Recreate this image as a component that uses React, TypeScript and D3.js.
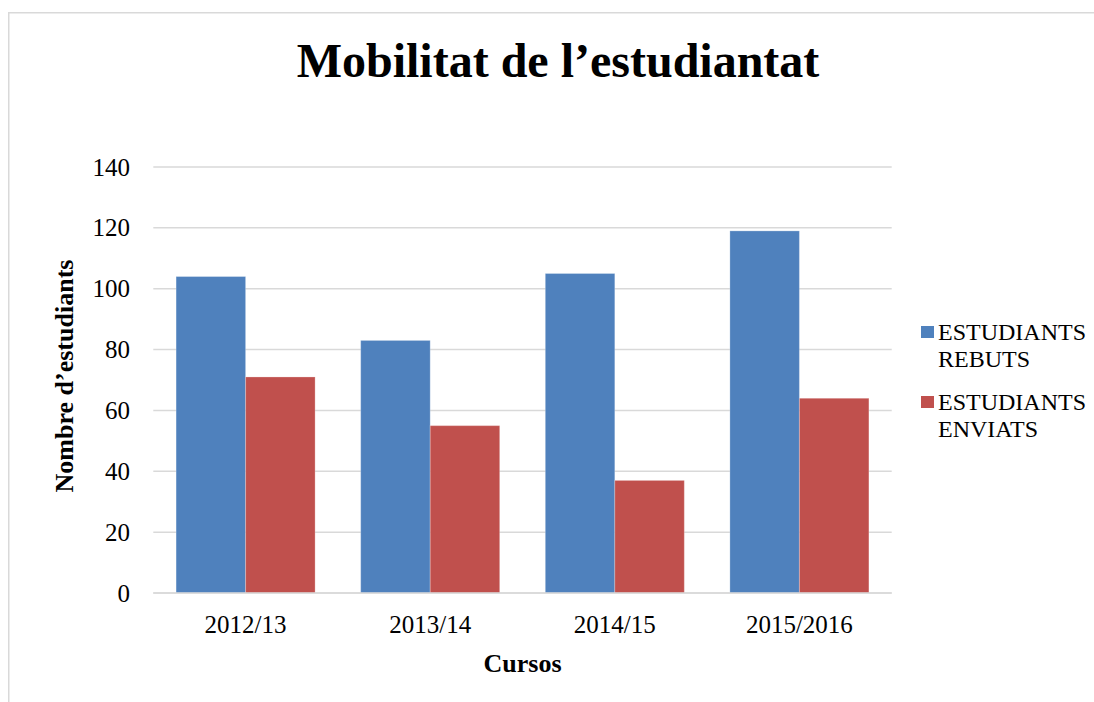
import React from "react";
import * as d3 from "d3";

const categories = ["2012/13", "2013/14", "2014/15", "2015/2016"];
const seriesNames = ["ESTUDIANTS REBUTS", "ESTUDIANTS ENVIATS"];
const rebuts = [104, 83, 105, 119];
const enviats = [71, 55, 37, 64];
const yTicks = [0, 20, 40, 60, 80, 100, 120, 140];
const colors = ["#4F81BD", "#C0504D"];
const legendLines = [["ESTUDIANTS", "REBUTS"], ["ESTUDIANTS", "ENVIATS"]];

const W = 1094;
const H = 702;
const font = "'Liberation Serif', 'Times New Roman', serif";

export default function App() {
  const left = 153.3, right = 891.7, top = 167, bottom = 593;
  const y = d3.scaleLinear().domain([0, 140]).range([bottom, top]);
  const x0 = d3.scaleBand().domain(categories).range([left, right]).paddingInner(0.247).paddingOuter(0.1235);
  const x1 = d3.scaleBand().domain(seriesNames).range([0, x0.bandwidth()]);
  const values = [rebuts, enviats];

  return (
    <svg width={W} height={H} style={{ position: "absolute", left: 0, top: 0, background: "#fff" }} fontFamily={font}>
      <rect x={8.75} y={12.75} width={1100} height={700} fill="#fff" stroke="#d9d9d9" strokeWidth={1.5} />
      <text x={558} y={77} textAnchor="middle" fontSize={48} fontWeight="bold" fill="#000">
        Mobilitat de l’estudiantat
      </text>
      {yTicks.map((t) => (
        <g key={t}>
          <line x1={left} x2={right} y1={y(t)} y2={y(t)} stroke="#d9d9d9" strokeWidth={1.5} />
          <text x={130} y={y(t)} dy="0.34em" textAnchor="end" fontSize={25} fill="#000">{t}</text>
        </g>
      ))}
      {categories.map((c, i) => (
        <g key={c}>
          {values.map((vals, s) => (
            <rect
              key={s}
              x={(x0(c) as number) + (x1(seriesNames[s]) as number)}
              y={y(vals[i])}
              width={x1.bandwidth()}
              height={y(0) - y(vals[i])}
              fill={colors[s]}
              stroke="rgba(255,255,255,0.25)"
              strokeWidth={1}
            />
          ))}
          <text x={(x0(c) as number) + x0.bandwidth() / 2} y={633} textAnchor="middle" fontSize={25} fill="#000">{c}</text>
        </g>
      ))}
      <line x1={left} x2={right} y1={y(0)} y2={y(0)} stroke="#d9d9d9" strokeWidth={1.5} />
      <text x={(left + right) / 2} y={672} textAnchor="middle" fontSize={26} fontWeight="bold" fill="#000">Cursos</text>
      <text transform={`translate(73, ${(top + bottom) / 2 - 4}) rotate(-90)`} textAnchor="middle" fontSize={26} fontWeight="bold" fill="#000">
        Nombre d’estudiants
      </text>
      {legendLines.map((lines, s) => (
        <g key={s} transform={`translate(0, ${s * 70})`}>
          <rect x={921} y={326} width={13} height={12} fill={colors[s]} />
          <text x={938} y={340} fontSize={24} fill="#000">{lines[0]}</text>
          <text x={938} y={367} fontSize={24} fill="#000">{lines[1]}</text>
        </g>
      ))}
    </svg>
  );
}
